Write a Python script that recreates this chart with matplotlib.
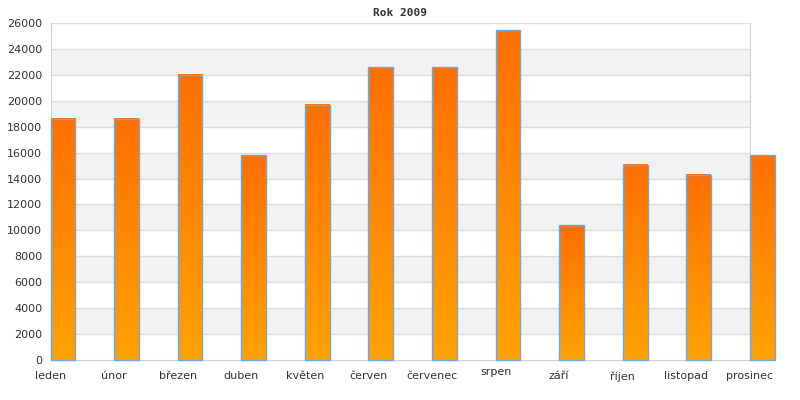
import numpy as np
import matplotlib
matplotlib.use("Agg")
import matplotlib.pyplot as plt
from matplotlib.colors import LinearSegmentedColormap
from matplotlib.patches import Rectangle
import matplotlib.transforms as mtransforms

months = ['leden', 'únor', 'březen', 'duben', 'květen', 'červen',
          'červenec', 'srpen', 'září', 'říjen', 'listopad', 'prosinec']
values = [18600, 18600, 22000, 15800, 19700, 22600,
          22600, 25450, 10400, 15050, 14300, 15800]
yticks = list(range(0, 26001, 2000))

fig = plt.figure(figsize=(8, 4), dpi=100)
ax = fig.add_axes([50.5 / 800, 40 / 400, 699.5 / 800, 337 / 400])

# alternating bands
for i, lo in enumerate(yticks[:-1]):
    if i % 2 == 1:
        ax.axhspan(lo, lo + 2000, color='#f2f2f2', zorder=0, lw=0)
for t in yticks[1:]:
    ax.axhline(t, color='#dddddd', lw=1, zorder=1)

cmap = LinearSegmentedColormap.from_list('og', ['#ffa200', '#ff7000'])
grad = np.linspace(0, 1, 256).reshape(-1, 1)
w = 0.39
for i, v in enumerate(values):
    ax.imshow(grad, extent=[i, i + w, 0, v], origin='lower', aspect='auto',
              cmap=cmap, zorder=2, clip_on=False)
    ax.add_patch(Rectangle((i, 0), w, v, fill=False, ec='#6aa8e8', lw=1,
                           zorder=3, clip_on=False))

ax.set_xlim(0, 11)
ax.set_ylim(0, 26000)
ax.set_xticks(range(len(months)))
ax.set_xticklabels(months)
ax.set_yticks(yticks)
ax.tick_params(length=0, labelsize=8, colors='#333333', pad=6)
ax.tick_params(axis='x', pad=8)
for s in ['left', 'bottom', 'right']:
    ax.spines[s].set_color('#d0d0d0')
ax.spines['top'].set_visible(False)

# srpen label sits a bit higher in the original
lbl = ax.get_xticklabels()[7]
lbl.set_transform(lbl.get_transform() + mtransforms.ScaledTranslation(0, 3 / 72, fig.dpi_scale_trans))

fig.text(400 / 800, 1 - 13 / 400, 'Rok 2009', ha='center', va='center',
         family='DejaVu Sans Mono', weight='bold', fontsize=8, color='#333333')

fig.savefig('out.png', dpi=100)
